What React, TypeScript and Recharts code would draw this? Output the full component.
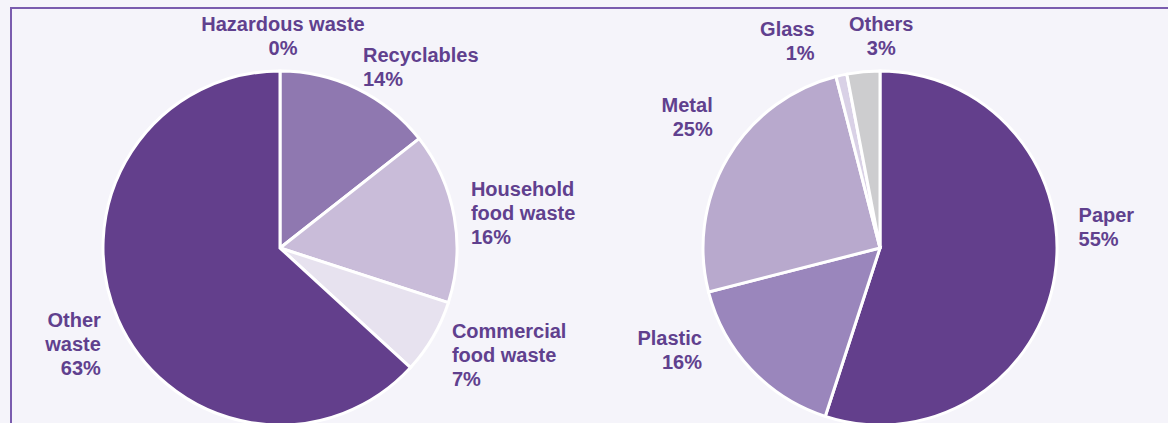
import React from "react";
import { PieChart, Pie, Cell } from "recharts";

// ---- Data ----
const wasteCategories = ["Hazardous waste", "Recyclables", "Household\nfood waste", "Commercial\nfood waste", "Other\nwaste"];
const wasteShares = [0, 14.4, 15.6, 6.8, 63.2];
const wasteColors = ["#d9d1e6", "#8f78b0", "#c9bcd9", "#e7e2ef", "#633f8c"];

const recycCategories = ["Paper", "Plastic", "Metal", "Glass", "Others"];
const recycShares = [55, 16, 25, 1, 3];
const recycColors = ["#633f8c", "#9a86bc", "#b8a9cd", "#d9d1e6", "#cdcdcf"];

const wasteData = wasteCategories.map((name, i) => ({ name, value: wasteShares[i] }));
const recycData = recycCategories.map((name, i) => ({ name, value: recycShares[i] }));

// ---- Label layout (relative to radial anchor point) ----
type LabelLayout = { anchor: "start" | "middle" | "end"; dx: number; dy: number };
const LABEL_LAYOUT: Record<string, LabelLayout> = {
  "Hazardous waste": { anchor: "middle", dx: 3, dy: -18 },
  "Recyclables": { anchor: "start", dx: -4, dy: -7 },
  "Household\nfood waste": { anchor: "start", dx: -5, dy: -17 },
  "Commercial\nfood waste": { anchor: "start", dx: 0, dy: -10 },
  "Other\nwaste": { anchor: "end", dx: 3, dy: -1 },
  "Paper": { anchor: "start", dx: 2, dy: -57 },
  "Plastic": { anchor: "end", dx: -33, dy: -39 },
  "Metal": { anchor: "end", dx: 4, dy: -35 },
  "Glass": { anchor: "end", dx: -22, dy: -18 },
  "Others": { anchor: "middle", dx: 20, dy: -19 },
};

const TEXT_COLOR = "#60408e";
const FONT = "'Liberation Sans', Arial, Helvetica, sans-serif";
const RAD = Math.PI / 180;
const LINE_H = 24;
const FRAME = "#7a5cae";

const renderLabel = (props: any) => {
  const { cx, cy, midAngle, outerRadius, name, value } = props;
  const r = outerRadius + 22;
  const px = cx + Math.cos(-midAngle * RAD) * r;
  const py = cy + Math.sin(-midAngle * RAD) * r;
  const lay = LABEL_LAYOUT[name] || { anchor: "middle", dx: 0, dy: 0 };
  const lines = [...String(name).split("\n"), `${Math.round(value)}%`];
  const x = px + lay.dx;
  const y0 = py + lay.dy;
  return (
    <text
      x={x}
      y={y0}
      textAnchor={lay.anchor}
      fill={TEXT_COLOR}
      fontFamily={FONT}
      fontWeight="bold"
      fontSize={20}
    >
      {lines.map((l, i) => (
        <tspan key={i} x={x} y={y0 + i * LINE_H}>
          {l}
        </tspan>
      ))}
    </text>
  );
};

export default function App() {
  return (
    <div
      style={{
        position: "fixed",
        left: 0,
        top: 0,
        width: 1168,
        height: 423,
        background: "#f5f4fa",
        overflow: "hidden",
      }}
    >
      <div style={{ position: "absolute", left: 10, top: 7, width: 1158, height: 2, background: FRAME }} />
      <div style={{ position: "absolute", left: 10, top: 7, width: 2, height: 416, background: FRAME }} />
      <div style={{ position: "absolute", left: 0, top: 0 }}>
        <PieChart width={1168} height={423} margin={{ top: 0, right: 0, bottom: 0, left: 0 }}>
          <Pie
            data={wasteData}
            dataKey="value"
            nameKey="name"
            cx={280}
            cy={248}
            outerRadius={177}
            startAngle={90}
            endAngle={-270}
            stroke="#ffffff"
            strokeWidth={3}
            label={renderLabel}
            labelLine={false}
            isAnimationActive={false}
          >
            {wasteData.map((d, i) => (
              <Cell key={d.name} fill={wasteColors[i]} />
            ))}
          </Pie>
          <Pie
            data={recycData}
            dataKey="value"
            nameKey="name"
            cx={880}
            cy={248}
            outerRadius={177}
            startAngle={90}
            endAngle={-270}
            stroke="#ffffff"
            strokeWidth={3}
            label={renderLabel}
            labelLine={false}
            isAnimationActive={false}
          >
            {recycData.map((d, i) => (
              <Cell key={d.name} fill={recycColors[i]} />
            ))}
          </Pie>
        </PieChart>
      </div>
    </div>
  );
}
